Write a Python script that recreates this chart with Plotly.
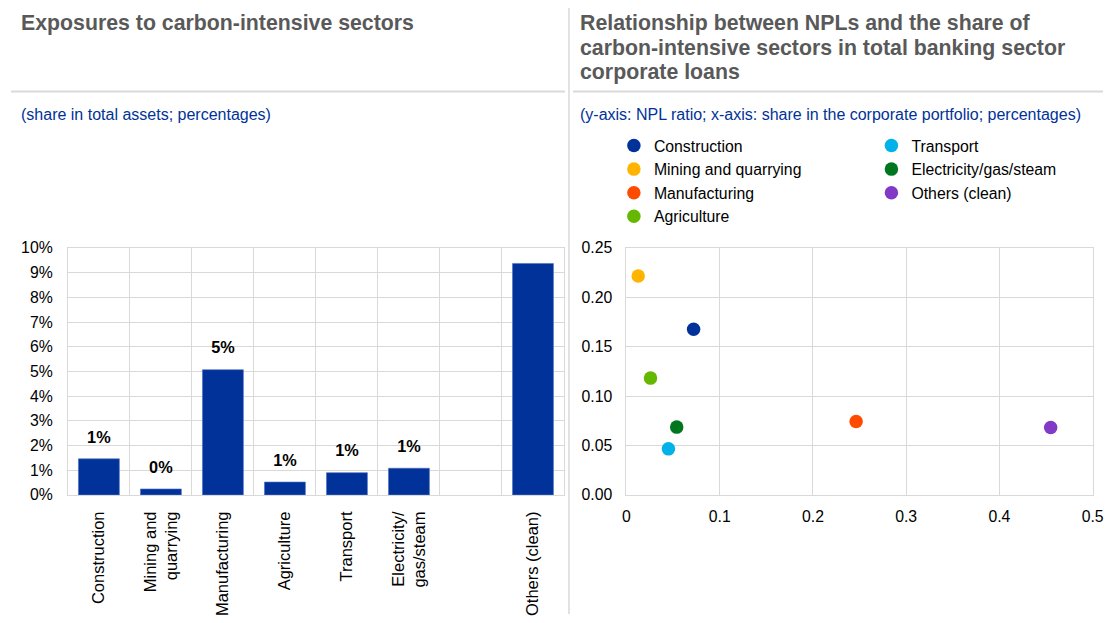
import plotly.graph_objects as go

# ---------------- data ----------------
bar_categories = ["Construction", "Mining and<br>quarrying", "Manufacturing", "Agriculture",
                  "Transport", "Electricity/<br>gas/steam", "", "Others (clean)"]
bar_values = [1.46, 0.24, 5.07, 0.52, 0.90, 1.08, None, 9.37]

scatter_names = ["Construction", "Mining and quarrying", "Manufacturing", "Agriculture",
                 "Transport", "Electricity/gas/steam", "Others (clean)"]
scatter_x = [0.072, 0.0126, 0.2463, 0.0258, 0.045, 0.0539, 0.455]
scatter_y = [0.1676, 0.2216, 0.0743, 0.1182, 0.0466, 0.0686, 0.0682]
scatter_colors = ["#003299", "#FFB400", "#FF4B00", "#65B800", "#00B1EA", "#00761E", "#8139C6"]

left_title = "Exposures to carbon-intensive sectors"
right_title_lines = ["Relationship between NPLs and the share of",
                     "carbon-intensive sectors in total banking sector",
                     "corporate loans"]
left_sub = "(share in total assets; percentages)"
right_sub = "(y-axis: NPL ratio; x-axis: share in the corporate portfolio; percentages)"

W, H = 1114, 623
FONT = "Liberation Sans, Arial, sans-serif"
GRID = "#d9d9d9"
BLUE = "#003299"
TICK = 15.8


# layout helpers: convert target pixel positions into paper fractions
def fx(x):
    return min(max((x - 3) * 1114 / 1101, 0), W) / W


def fy(y):
    return 1 - min(max((y - 8) * 623 / 607, 0), H) / H


fig = go.Figure()

# ---------------- bar chart ----------------
xpos = list(range(len(bar_categories)))
bx = [x for x, v in zip(xpos, bar_values) if v is not None]
bv = [v for v in bar_values if v is not None]
fig.add_trace(go.Bar(
    x=bx, y=bv, marker=dict(color=BLUE, line=dict(color="#4d6fbf", width=0.6)),
    width=0.66, showlegend=False, xaxis="x", yaxis="y", hoverinfo="y"))
label_offset = 0.82
fig.add_trace(go.Scatter(
    x=bx, y=[v + label_offset for v in bv], mode="text",
    text=[f"{round(v):d}%" for v in bv], textposition="middle center",
    textfont=dict(family=FONT, size=16.3, color="#000000", weight="bold"),
    showlegend=False, cliponaxis=False, xaxis="x", yaxis="y", hoverinfo="skip"))

# ---------------- scatter chart ----------------
left_names = scatter_names[:4]
for name, x, y, c in zip(scatter_names, scatter_x, scatter_y, scatter_colors):
    fig.add_trace(go.Scatter(
        x=[x], y=[y], mode="markers", name=name,
        marker=dict(color=c, size=13.5),
        xaxis="x2", yaxis="y2",
        legend="legend" if name in left_names else "legend2"))

ydom = [fy(495.7), fy(248.3)]
tickfont = dict(family=FONT, size=TICK, color="#000000")
frame = dict(showline=True, linecolor=GRID, linewidth=1, mirror=True, zeroline=False, ticks="")
legend_font = dict(family=FONT, size=15.8, color="#000000")

fig.update_layout(
    width=W, height=H, margin=dict(l=0, r=0, t=0, b=0),
    paper_bgcolor="white", plot_bgcolor="white",
    font=dict(family=FONT, size=TICK, color="#000000"),
    xaxis=dict(domain=[fx(67), fx(564)], range=[-0.5, 7.5], anchor="y",
               tickmode="array", tickvals=xpos, ticktext=bar_categories,
               tickangle=-90, showgrid=False, ticklabelstandoff=9,
               tickfont=dict(family=FONT, size=16.5, color="#000000"),
               minor=dict(tick0=0.5, dtick=1, showgrid=True, gridcolor=GRID, ticks=""),
               **frame),
    yaxis=dict(domain=ydom, range=[0, 10], dtick=1, ticksuffix="%", anchor="x",
               showgrid=True, gridcolor=GRID, ticklabelstandoff=11, tickfont=tickfont, **frame),
    xaxis2=dict(domain=[fx(626.6), 1103.5 / W], range=[0, 0.5], dtick=0.1, anchor="y2",
                showgrid=True, gridcolor=GRID, ticklabelstandoff=7, tickfont=tickfont,
                ticklabeloverflow="allow", **frame),
    yaxis2=dict(domain=ydom, range=[0, 0.25], dtick=0.05, tickformat=".2f", anchor="x2",
                showgrid=True, gridcolor=GRID, ticklabelstandoff=10, tickfont=tickfont, **frame),
    legend=dict(x=fx(614), y=fy(129), xanchor="left", yanchor="top", font=legend_font,
                bgcolor="rgba(0,0,0,0)", tracegroupgap=0, itemclick=False),
    legend2=dict(x=fx(872), y=fy(129), xanchor="left", yanchor="top", font=legend_font,
                 bgcolor="rgba(0,0,0,0)", tracegroupgap=0, itemclick=False),
)

# ---------------- titles / subtitles ----------------
title_font = dict(family=FONT, size=21.3, color="#595959", weight="bold")
sub_font = dict(family=FONT, size=16, color=BLUE)
fig.add_annotation(x=fx(18), y=fy(23.5), xref="paper", yref="paper", xanchor="left", yanchor="middle",
                   text=left_title, showarrow=False, font=title_font, align="left")
for i, line in enumerate(right_title_lines):
    fig.add_annotation(x=fx(578), y=fy(23.5 + 24.5 * i), xref="paper", yref="paper",
                       xanchor="left", yanchor="middle", text=line, showarrow=False,
                       font=title_font, align="left")
fig.add_annotation(x=fx(18), y=fy(114.5), xref="paper", yref="paper", xanchor="left", yanchor="middle",
                   text=left_sub, showarrow=False, font=sub_font)
fig.add_annotation(x=fx(578), y=fy(114.5), xref="paper", yref="paper", xanchor="left", yanchor="middle",
                   text=right_sub, showarrow=False, font=sub_font)

# ---------------- separators ----------------
fig.add_shape(type="line", xref="paper", yref="paper", x0=fx(10), x1=fx(565), y0=fy(91.7), y1=fy(91.7),
              line=dict(color=GRID, width=2))
fig.add_shape(type="line", xref="paper", yref="paper", x0=fx(573), x1=1, y0=fy(91.7), y1=fy(91.7),
              line=dict(color=GRID, width=2))
fig.add_shape(type="line", xref="paper", yref="paper", x0=fx(569), x1=fx(569), y0=0, y1=1,
              line=dict(color=GRID, width=1.5))

fig.write_html("out.html", config={"displayModeBar": False},
               post_script="document.body.style.margin='0';document.body.style.overflow='hidden';")
